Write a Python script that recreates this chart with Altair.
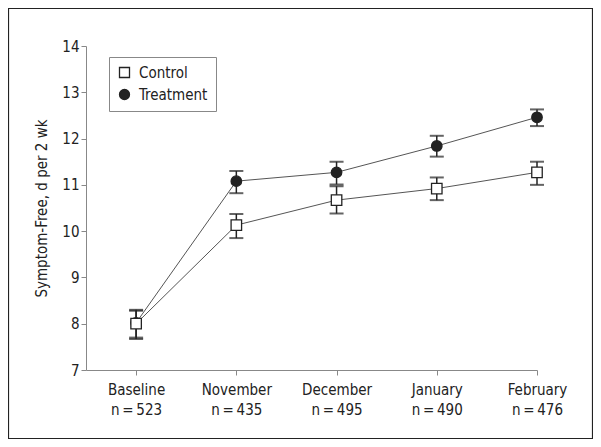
import altair as alt
import pandas as pd

months = ["Baseline", "November", "December", "January", "February"]
n_values = [523, 435, 495, 490, 476]
groups = ["Control", "Treatment"]
control_mean = [8.0, 10.13, 10.67, 10.92, 11.27]
control_low = [7.70, 9.85, 10.38, 10.67, 11.00]
control_high = [8.28, 10.37, 10.97, 11.16, 11.50]
treat_mean = [8.02, 11.08, 11.27, 11.84, 12.46]
treat_low = [7.67, 10.82, 11.01, 11.61, 12.27]
treat_high = [8.30, 11.30, 11.50, 12.06, 12.63]

rows = []
for g, m, lo, hi in [("Treatment", treat_mean, treat_low, treat_high),
                     ("Control", control_mean, control_low, control_high)]:
    for i, month in enumerate(months):
        rows.append({"idx": i, "month": month, "group": g,
                     "mean": m[i], "low": lo[i], "high": hi[i]})
df = pd.DataFrame(rows)

label_arr = "[" + ",".join(
    f"['{m}','n\u2009=\u2009{n}']" for m, n in zip(months, n_values)) + "]"

FONT = "Liberation Sans Narrow, DejaVu Sans Condensed, Roboto"

x = alt.X("idx:Q", scale=alt.Scale(domain=[-0.5, 4], nice=False, zero=False),
          axis=alt.Axis(values=list(range(len(months))), title=None,
                        labelExpr=label_arr + "[datum.value]",
                        labelLineHeight=20, labelPadding=7, tickSize=5,
                        labelFlush=False))
y_axis = alt.Axis(values=list(range(7, 15)), title="Symptom-Free, d per 2 wk",
                  tickSize=5, labelPadding=2, titlePadding=12)
yscale = alt.Scale(domain=[7, 14], nice=False, zero=False)

base = alt.Chart(df)

lines = base.mark_line(color="#555", strokeWidth=1).encode(
    x=x, y=alt.Y("mean:Q", scale=yscale, axis=y_axis),
    detail="group:N", order="idx:Q")
bars = base.mark_rule(color="#222", strokeWidth=1.5).encode(
    x=x, y=alt.Y("low:Q", scale=yscale), y2="high:Q")
cap_lo = base.mark_tick(orient="horizontal", size=14, thickness=2, color="#222").encode(
    x=x, y=alt.Y("low:Q", scale=yscale))
cap_hi = base.mark_tick(orient="horizontal", size=14, thickness=2, color="#222").encode(
    x=x, y=alt.Y("high:Q", scale=yscale))
points = base.mark_point(stroke="#222", strokeWidth=1.3, opacity=1,
                         fillOpacity=1, size=110).encode(
    x=x, y=alt.Y("mean:Q", scale=yscale),
    shape=alt.Shape("group:N", scale=alt.Scale(domain=groups, range=["square", "circle"]),
                    legend=alt.Legend(title=None, orient="none", legendX=23, legendY=11)),
    fill=alt.Fill("group:N", scale=alt.Scale(domain=groups, range=["white", "#222"]),
                  legend=alt.Legend(title=None, orient="none", legendX=23, legendY=11)),
)

frame = alt.Chart(pd.DataFrame({"a": [0]})).mark_rect(
    fill=None, stroke="#222", strokeWidth=1.2).encode(
    x=alt.value(-77.5), x2=alt.value(506.5), y=alt.value(-37.5), y2=alt.value(392.5))

chart = alt.layer(frame, lines, bars, cap_lo, cap_hi, points).properties(
    width=451, height=324,
    autosize=alt.AutoSizeParams(type="none"),
    padding={"left": 78, "top": 38, "right": 56, "bottom": 69},
).configure_view(stroke=None).configure_axis(
    domainColor="#888", tickColor="#888", labelColor="#222", titleColor="#222",
    labelFontSize=15, titleFontSize=15, labelFont=FONT, titleFont=FONT,
    titleFontWeight="normal", grid=False,
).configure_legend(
    strokeColor="#888", padding=8, labelFontSize=15, labelFont=FONT,
    labelColor="#222", symbolSize=100, rowPadding=5, cornerRadius=0,
    symbolStrokeWidth=1.3, labelOffset=7,
)

chart.save("out.html", embed_options={"renderer": "svg", "actions": False})
